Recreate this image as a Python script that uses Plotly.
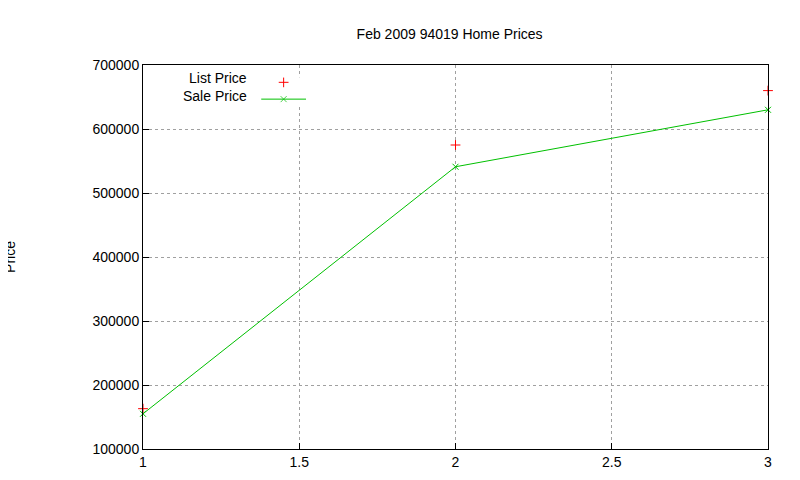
import plotly.graph_objects as go

x = [1, 2, 3]
list_price = [163000, 575000, 660000]
sale_price = [155000, 541000, 630000]

red = "#ff0000"
green = "#00c000"
font = dict(family="Liberation Sans, Arial", size=14, color="#000")

fig = go.Figure()
fig.add_trace(go.Scatter(x=x, y=list_price, mode="markers", name="List Price", cliponaxis=False,
                         marker=dict(symbol="cross-thin", size=7, line=dict(color=red, width=1))))
fig.add_trace(go.Scatter(x=x, y=sale_price, mode="lines+markers", name="Sale Price", cliponaxis=False,
                         line=dict(color=green, width=1),
                         marker=dict(symbol="x-thin", size=6, line=dict(color=green, width=1))))
# legend samples on an overlay axis
fig.add_trace(go.Scatter(x=[0.5], y=[1], mode="markers", xaxis="x2", yaxis="y2",
                         marker=dict(symbol="cross-thin", size=7, line=dict(color=red, width=1))))
fig.add_trace(go.Scatter(x=[0, 0.5, 1], y=[0, 0, 0], mode="lines+markers", xaxis="x2", yaxis="y2",
                         line=dict(color=green, width=1),
                         marker=dict(symbol="x-thin", size=[0, 6, 0], line=dict(color=green, width=1))))

fig.update_layout(
    width=800, height=480, showlegend=False,
    paper_bgcolor="white", plot_bgcolor="white",
    margin=dict(l=135, r=40, t=57, b=39, autoexpand=False),
    font=font,
    title=dict(text="Feb 2009 94019 Home Prices", x=0.552, xanchor="center", y=0.945, yanchor="middle",
               font=dict(size=14)),
    xaxis=dict(range=[1, 3], tickvals=[1, 1.5, 2, 2.5, 3], ticktext=["1", "1.5", "2", "2.5", "3"],
               showgrid=True, gridcolor="#a0a0a0", griddash="dot", zeroline=False, automargin=False,
               showline=True, linecolor="black", mirror=True, ticks="inside", ticklen=6, tickcolor="black"),
    yaxis=dict(range=[100000, 700000], dtick=100000, tickformat="d", automargin=False,
               showgrid=True, gridcolor="#a0a0a0", griddash="dot", zeroline=False,
               showline=True, linecolor="black", mirror=True, ticks="inside", ticklen=6, tickcolor="black"),
    xaxis2=dict(domain=[0.189, 0.261], range=[0, 1], visible=False, anchor="y2"),
    yaxis2=dict(domain=[0.898, 0.968], range=[-0.3, 1.3], visible=False, anchor="x2"),
    annotations=[
        dict(text="Price", xref="paper", yref="paper", x=-0.213, y=0.5, xanchor="center", yanchor="middle",
             textangle=-90, showarrow=False, font=font),
        dict(text="List Price", xref="paper", yref="paper", x=0.169, y=0.965, xanchor="right", yanchor="middle",
             showarrow=False, font=font),
        dict(text="Sale Price", xref="paper", yref="paper", x=0.169, y=0.918, xanchor="right", yanchor="middle",
             showarrow=False, font=font),
    ],
)
fig.write_html("out.html")
